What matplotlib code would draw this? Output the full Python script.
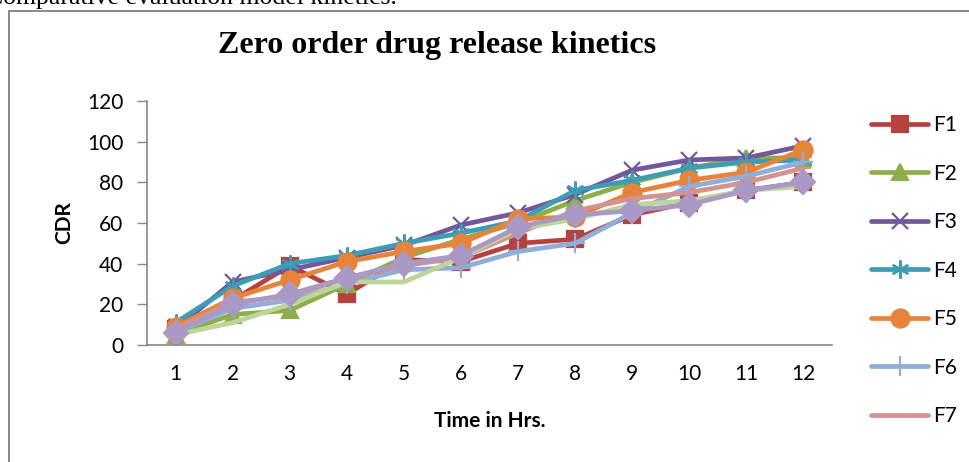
import matplotlib
matplotlib.use("Agg")
import matplotlib.pyplot as plt
from matplotlib.patches import Rectangle

# data
hours = [1, 2, 3, 4, 5, 6, 7, 8, 9, 10, 11, 12]
F1 = [8, 22, 39, 25, 42, 41, 50, 52, 64, 70, 76, 80]
F2 = [5, 15, 17, 30, 43, 52, 60, 71, 80, 87, 92, 92]
F3 = [8, 31, 37, 43, 49, 59, 65, 74, 86, 91, 92, 98]
F4 = [11, 29, 40, 44, 50, 55, 61, 76, 81, 87, 90, 91]
F5 = [9, 23, 32, 41, 46, 50, 62, 63, 75, 81, 85, 96]
F6 = [6, 18, 22, 30, 37, 38, 46, 50, 65, 78, 83, 90]
F7 = [8, 21, 24, 33, 39, 43, 55, 66, 72, 75, 80, 87]
F8 = [5, 11, 20, 31, 31, 43, 57, 62, 69, 71, 76, 78]
F9 = [6, 20, 25, 33, 40, 44, 58, 64, 66, 69, 76, 80]

names = ["F1", "F2", "F3", "F4", "F5", "F6", "F7", "F8", "F9"]
series = [F1, F2, F3, F4, F5, F6, F7, F8, F9]
colors = ["#B5423F", "#8DAE4B", "#72579A", "#3E9DB5", "#E8843A",
          "#8FAEDA", "#D49391", "#BDD49A", "#A999C4"]
markers = ["s", "^", "x", (6, 2, 0), "o", "+", "_", "None", "D"]
msizes = [11, 11, 11, 13, 13, 14, 12, 0, 12]

plt.rcParams['font.family'] = ['Lato', 'DejaVu Sans']

W, H = 969, 462
fig = plt.figure(figsize=(W / 100, H / 100), dpi=100)
ax = fig.add_axes([147 / W, 1 - 345 / H, (832 - 147) / W, (345 - 101) / H])

handles = []
for name, vals, c, m, ms in zip(names, series, colors, markers, msizes):
    ln, = ax.plot(hours, vals, color=c, lw=3.4, marker=m, markersize=ms,
                  markerfacecolor=c, markeredgecolor=c, markeredgewidth=1.6,
                  label=name, solid_capstyle='round', solid_joinstyle='round')
    handles.append(ln)

ax.set_xlim(0.5, 12.5)
ax.set_ylim(0, 120)
ax.set_yticks(range(0, 121, 20))
ax.set_xticks(hours)
ax.tick_params(axis='x', length=0, pad=14, labelsize=15)
ax.tick_params(axis='y', length=7, width=1, color='#868686', pad=10, labelsize=15)
for s in ['top', 'right']:
    ax.spines[s].set_visible(False)
for s in ['left', 'bottom']:
    ax.spines[s].set_color('#868686')
    ax.spines[s].set_linewidth(1.2)

ax.set_xlabel("Time in Hrs.", fontsize=15, fontweight='bold', labelpad=19)
ax.set_ylabel("CDR", fontsize=15, fontweight='bold', labelpad=9)

fig.text(437 / W, 1 - 46 / H, "Zero order drug release kinetics",
         fontsize=23, fontweight='bold', family='Liberation Serif',
         ha='center', va='center')
fig.text(397 / W, 1 - 4 / H, "Comparative evaluation model kinetics.",
         fontsize=18.5, family='Liberation Serif', ha='right', va='baseline')

fig.patches.append(Rectangle((9 / W, -0.1), 1.2, 1.1 - 11 / H,
                             transform=fig.transFigure, fill=False,
                             edgecolor='#7F7F7F', lw=1.3))

# only F1-F7 fit in the visible part of the legend
ax.legend(handles=handles[:7], loc='upper left',
          bbox_to_anchor=(871 / W, 1 - 115 / H),
          bbox_transform=fig.transFigure, frameon=False, fontsize=15,
          handlelength=2.75, handletextpad=0.25, labelspacing=1.37,
          borderpad=0, borderaxespad=0)

fig.savefig("out.png", dpi=100)
